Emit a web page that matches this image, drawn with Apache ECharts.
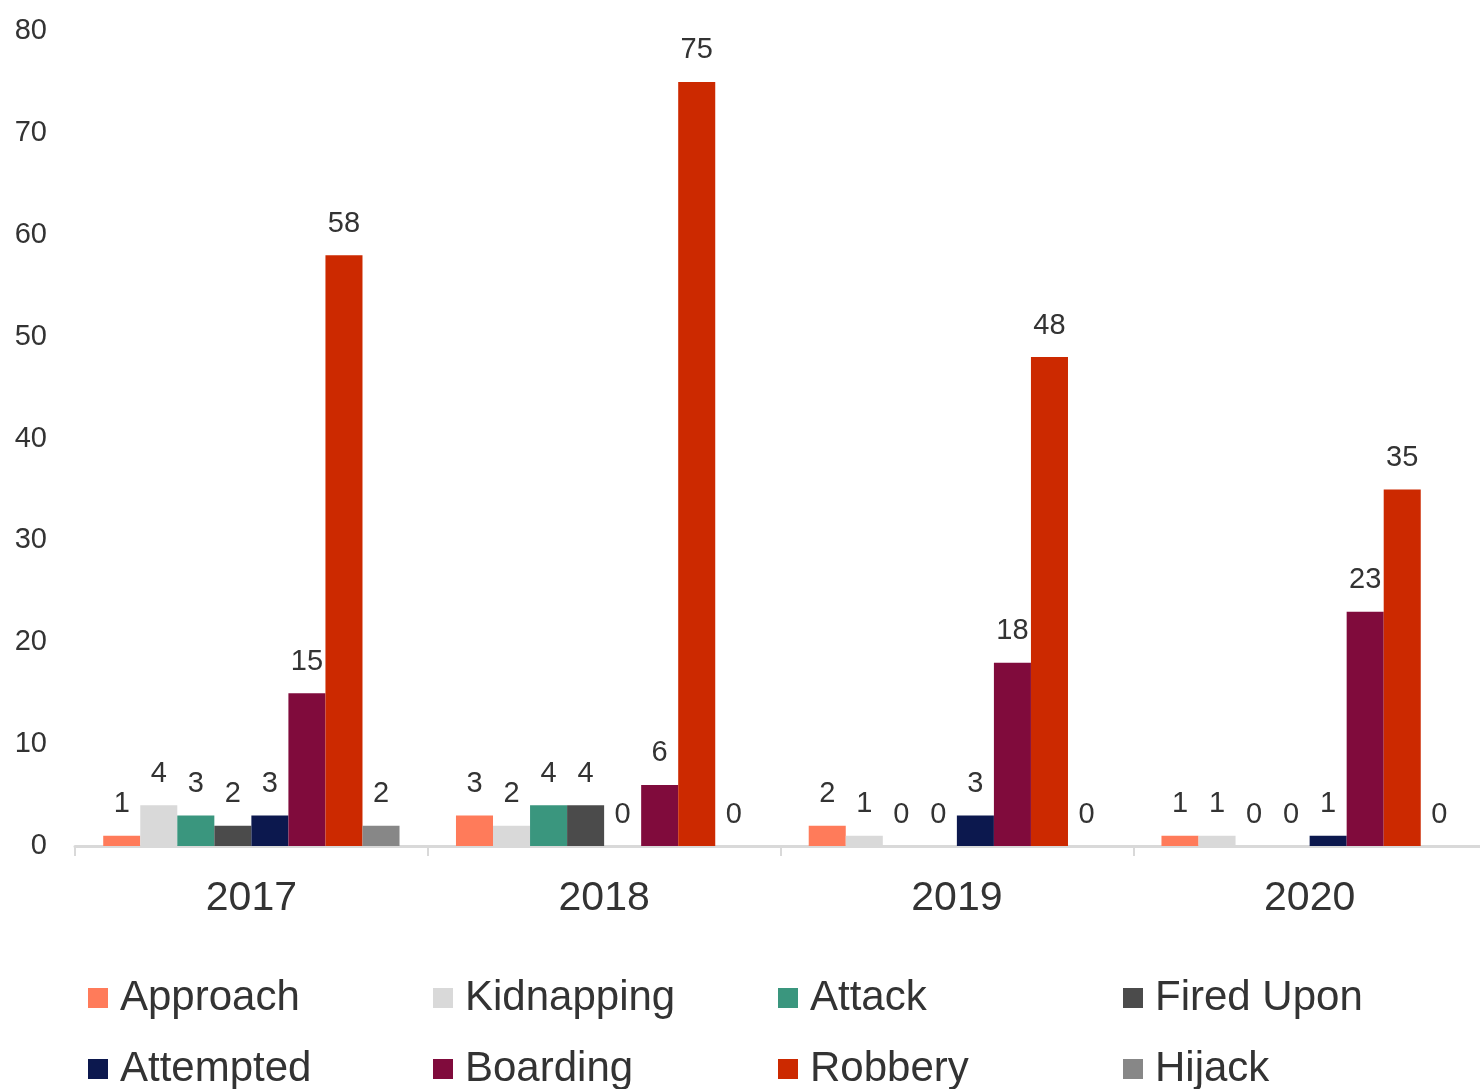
<!DOCTYPE html>
<html>
<head>
<meta charset="utf-8">
<script src="https://cdn.jsdelivr.net/npm/echarts@6/dist/echarts.min.js"></script>
<style>
  html, body { margin: 0; padding: 0; background: #fff; overflow: hidden; }
  #chart { width: 1486px; height: 1100px; }
</style>
</head>
<body>
<div id="chart"></div>
<script>
// Incidents per year, by incident type
const years = ['2017', '2018', '2019', '2020'];
const approach   = [1, 3, 2, 1];
const kidnapping = [4, 2, 1, 1];
const attack     = [3, 4, 0, 0];
const firedUpon  = [2, 4, 0, 0];
const attempted  = [3, 0, 3, 1];
const boarding   = [15, 6, 18, 23];
const robbery    = [58, 75, 48, 35];
const hijack     = [2, 0, 0, 0];

const seriesDefs = [
  { name: 'Approach',   data: approach,   color: '#FF7B5A' },
  { name: 'Kidnapping', data: kidnapping, color: '#D9D9D9' },
  { name: 'Attack',     data: attack,     color: '#3A967E' },
  { name: 'Fired Upon', data: firedUpon,  color: '#4B4B4B' },
  { name: 'Attempted',  data: attempted,  color: '#0C184E' },
  { name: 'Boarding',   data: boarding,   color: '#800B3C' },
  { name: 'Robbery',    data: robbery,    color: '#CC2900' },
  { name: 'Hijack',     data: hijack,     color: '#878787' }
];

// Legend is laid out in four columns of two entries each
const legendColumns = [
  ['Approach', 'Attempted'],
  ['Kidnapping', 'Boarding'],
  ['Attack', 'Robbery'],
  ['Fired Upon', 'Hijack']
];
const legendLefts = [88, 433, 778, 1123];

const textColor = '#333333';
const fontFamily = '"Liberation Sans", Arial, sans-serif';

const chart = echarts.init(document.getElementById('chart'), null, { renderer: 'canvas' });

chart.setOption({
  backgroundColor: '#ffffff',
  animation: false,
  textStyle: { fontFamily: fontFamily },
  grid: { left: 75, right: 0, top: 31, bottom: 254, containLabel: false },
  legend: legendColumns.map((names, i) => ({
    left: legendLefts[i],
    top: 977,
    padding: 0,
    orient: 'vertical',
    itemWidth: 20,
    itemHeight: 20,
    itemGap: 29,
    icon: 'rect',
    textStyle: {
      color: textColor,
      fontSize: 42,
      fontFamily: fontFamily,
      lineHeight: 42,
      padding: [0, 0, 0, 7]
    },
    data: names
  })),
  xAxis: {
    type: 'category',
    data: years,
    axisLine: { show: true, lineStyle: { color: '#D9D9D9', width: 3 } },
    axisTick: { show: true, length: 10, lineStyle: { color: '#D9D9D9', width: 2 } },
    axisLabel: { color: textColor, fontSize: 41, margin: 32, fontFamily: fontFamily },
    splitLine: { show: false }
  },
  yAxis: {
    type: 'value',
    min: 0,
    max: 80,
    interval: 10,
    axisLine: { show: false },
    axisTick: { show: false },
    splitLine: { show: false },
    axisLabel: { color: textColor, fontSize: 29, margin: 28, fontFamily: fontFamily }
  },
  series: seriesDefs.map(s => ({
    name: s.name,
    type: 'bar',
    data: s.data,
    barGap: '0%',
    barCategoryGap: '16%',
    itemStyle: { color: s.color },
    label: {
      show: true,
      position: 'top',
      distance: 17,
      color: textColor,
      fontSize: 29,
      fontFamily: fontFamily
    }
  }))
});
</script>
</body>
</html>
